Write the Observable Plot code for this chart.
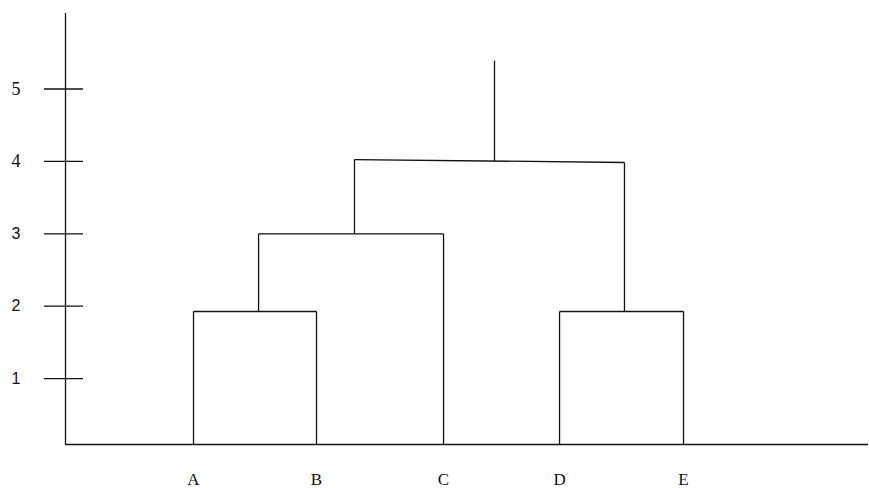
<!DOCTYPE html>
<html>
<head>
<meta charset="utf-8">
<script src="https://cdn.jsdelivr.net/npm/d3@7"></script>
<script src="https://cdn.jsdelivr.net/npm/@observablehq/plot@0.6"></script>
<style>
  html, body { margin: 0; padding: 0; background: #fff; }
  #chart svg { display: block; }
</style>
</head>
<body>
<div id="chart"></div>
<script>
// Leaves (position along the x axis, in leaf units)
const labels = ["A", "B", "C", "D", "E"];
const leafPos = [1, 2.004, 3.041, 3.988, 5];

// Merges (clusters) of the dendrogram
const mergeNames = ["AB", "ABC", "DE", "ABCDE"];
const mergeLeft = ["A", "AB", "D", "ABC"];
const mergeRight = ["B", "C", "E", "DE"];
const mergeX = [1.531, 2.314, 4.518, 3.457];
const mergeHeightLeft = [1.927, 3.0, 1.927, 4.026];
const mergeHeightRight = [1.927, 3.0, 1.927, 3.985];
const rootTop = 5.392;

// Axis ticks and scale extents
const yTicks = [1, 2, 3, 4, 5];
const yDomain = [0.09, 6.043];
const xDomain = [-0.045, 6.51];

// ---- build node table and segments
const nodeX = new Map(), nodeH = new Map();
labels.forEach((l, i) => { nodeX.set(l, leafPos[i]); nodeH.set(l, 0); });
mergeNames.forEach((m, i) => {
  nodeX.set(m, mergeX[i]);
  nodeH.set(m, (mergeHeightLeft[i] + mergeHeightRight[i]) / 2);
});
const segs = [];
mergeNames.forEach((m, i) => {
  const L = mergeLeft[i], R = mergeRight[i];
  const hl = mergeHeightLeft[i], hr = mergeHeightRight[i];
  segs.push({x1: nodeX.get(L), y1: hl, x2: nodeX.get(R), y2: hr});
  segs.push({x1: nodeX.get(L), y1: nodeH.get(L), x2: nodeX.get(L), y2: hl});
  segs.push({x1: nodeX.get(R), y1: nodeH.get(R), x2: nodeX.get(R), y2: hr});
});
const root = mergeNames[mergeNames.length - 1];
segs.push({x1: nodeX.get(root), y1: nodeH.get(root), x2: nodeX.get(root), y2: rootTop});

const leaves = labels.map((l, i) => ({label: l, x: leafPos[i]}));
const ink = "#111";

const chart = Plot.plot({
  width: 869,
  height: 488,
  marginLeft: 65,
  marginRight: 1,
  marginTop: 13,
  marginBottom: 44,
  style: {background: "#fff"},
  x: {domain: xDomain, axis: null},
  y: {domain: yDomain, clamp: true, axis: null},
  marks: [
    // axis lines
    Plot.ruleX([xDomain[0]], {stroke: ink, strokeWidth: 1.3}),
    Plot.ruleY([yDomain[0]], {stroke: ink, strokeWidth: 1.3}),
    // crossing ticks on y axis
    Plot.axisY({ticks: yTicks, tickSize: 39, dx: 18, tickFormat: () => "", label: null, stroke: ink, strokeWidth: 1.3}),
    // y tick labels
    Plot.text(yTicks.filter(d => d < 4), {y: d => d, text: d => String(d), frameAnchor: "left", dx: -45, textAnchor: "end",
      lineAnchor: "middle", fontFamily: "Liberation Sans, Arial, sans-serif", fontSize: 16, fill: "#111"}),
    Plot.text(yTicks.filter(d => d >= 4), {y: d => d, text: d => String(d), frameAnchor: "left", dx: -45, textAnchor: "end",
      lineAnchor: "middle", fontFamily: "Liberation Serif, Times New Roman, serif", fontSize: 18, fill: "#111"}),
    // dendrogram
    Plot.link(segs, {x1: "x1", y1: "y1", x2: "x2", y2: "y2", stroke: ink, strokeWidth: 1.3}),
    // leaf labels
    Plot.text(leaves, {x: "x", text: "label", frameAnchor: "bottom", lineAnchor: "bottom", dy: 40,
      fontFamily: "Liberation Serif, Times New Roman, serif", fontSize: 17, fill: "#111"})
  ]
});
document.getElementById("chart").appendChild(chart);
</script>
</body>
</html>
